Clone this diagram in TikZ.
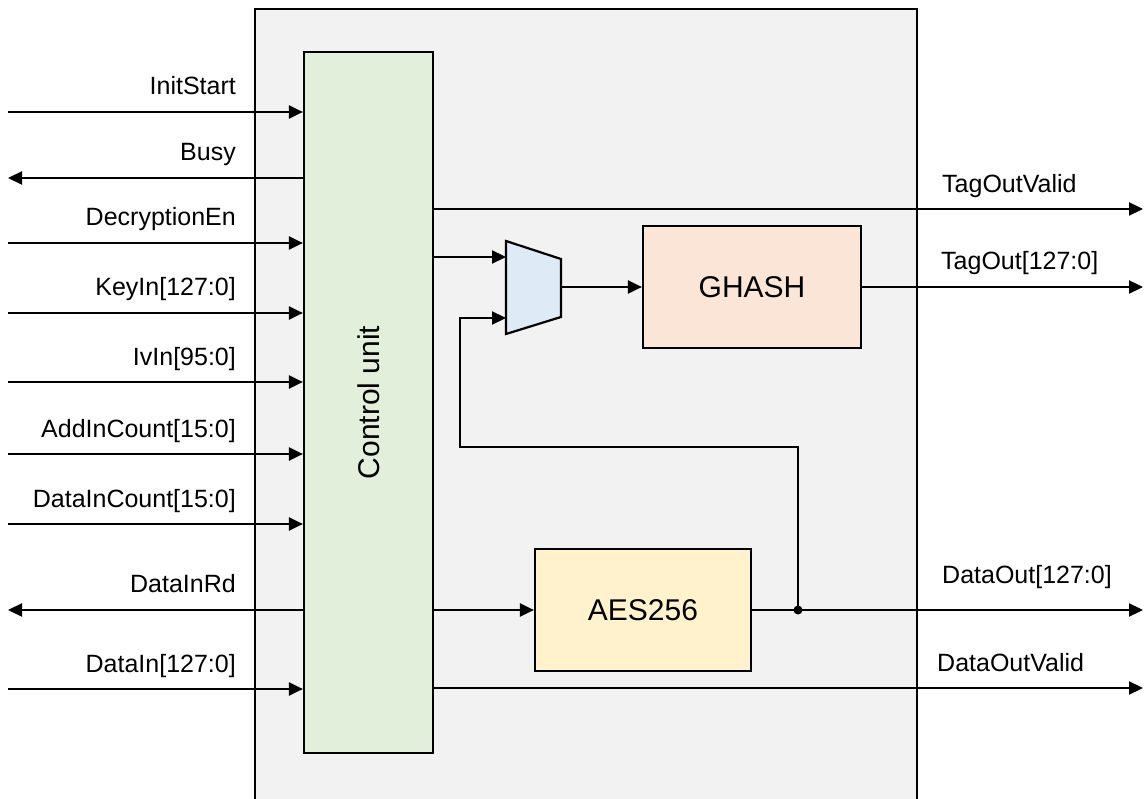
\documentclass[tikz,border=0pt]{standalone}
\usepackage{fontspec}
\setmainfont{Liberation Sans}
\usetikzlibrary{arrows.meta}
\definecolor{corebg}{HTML}{F2F2F2}
\definecolor{ctrlgreen}{HTML}{E2EFDA}
\definecolor{ghashpeach}{HTML}{FBE5D6}
\definecolor{aesyellow}{HTML}{FFF2CC}
\definecolor{muxblue}{HTML}{DEEBF7}
\tikzset{
  wire/.style={line width=2.2pt},
  sig/.style={wire, -{Triangle[length=14pt,width=13pt]}},
  block/.style={draw, line width=2.2pt, minimum width=218pt, minimum height=122pt,
    font=\fontsize{30}{36}\selectfont},
  inlabel/.style={anchor=base east, inner sep=0pt, font=\fontsize{25}{30}\selectfont},
  outlabel/.style={anchor=base west, inner sep=0pt, font=\fontsize{25}{30}\selectfont},
}
\begin{document}
\begin{tikzpicture}[x=1pt, y=-1pt]
  \useasboundingbox (0,0) rectangle (1145,799);
  % core frame, open at the bottom
  \fill[corebg] (255,9) rectangle (917,810);
  \draw[wire] (255,810) -- (255,9) -- (917,9) -- (917,810);

  \node[block, fill=ctrlgreen, minimum width=129pt, minimum height=701pt] (ctrl) at (368.5,402.5) {};
  \node[rotate=90, font=\fontsize{30}{36}\selectfont] (ctrl-lbl) at (ctrl.center) {Control unit};
  \node[block, fill=ghashpeach] (ghash) at (752,287) {GHASH};
  \node[block, fill=aesyellow, minimum width=216pt] (aes) at (643,610) {AES256};

  % mux
  \draw[wire, fill=muxblue] (506,241) -- (561,259) -- (561,317) -- (506,334) -- cycle;
  \coordinate (mux-in1) at (506,257);
  \coordinate (mux-in2) at (506,318);
  \coordinate (mux-out) at (561,287);

  % inputs and outputs on the left
  \coordinate (initstart) at (8,112);
  \coordinate (busy) at (8,178);
  \coordinate (decen) at (8,243);
  \coordinate (keyin) at (8,313);
  \coordinate (ivin) at (8,382);
  \coordinate (addcnt) at (8,454);
  \coordinate (datacnt) at (8,524);
  \coordinate (datainrd) at (8,610);
  \coordinate (datain) at (8,689);
  \draw[sig] (initstart) -- (initstart -| ctrl.west);
  \draw[sig] (busy -| ctrl.west) -- (busy);
  \draw[sig] (decen) -- (decen -| ctrl.west);
  \draw[sig] (keyin) -- (keyin -| ctrl.west);
  \draw[sig] (ivin) -- (ivin -| ctrl.west);
  \draw[sig] (addcnt) -- (addcnt -| ctrl.west);
  \draw[sig] (datacnt) -- (datacnt -| ctrl.west);
  \draw[sig] (datainrd -| ctrl.west) -- (datainrd);
  \draw[sig] (datain) -- (datain -| ctrl.west);
  \node[inlabel] (initstart-lbl) at (236,95) {InitStart};
  \node[inlabel] (busy-lbl) at (236,161) {Busy};
  \node[inlabel] (decen-lbl) at (236,226) {DecryptionEn};
  \node[inlabel] (keyin-lbl) at (236,296) {KeyIn[127:0]};
  \node[inlabel] (ivin-lbl) at (236,365) {IvIn[95:0]};
  \node[inlabel] (addcnt-lbl) at (236,437) {AddInCount[15:0]};
  \node[inlabel] (datacnt-lbl) at (236,507) {DataInCount[15:0]};
  \node[inlabel] (datainrd-lbl) at (236,592) {DataInRd};
  \node[inlabel] (datain-lbl) at (236,672) {DataIn[127:0]};

  % internal paths
  \draw[sig] (mux-in1 -| ctrl.east) -- (mux-in1);
  \draw[sig] (mux-out) -- (ghash.west);
  \draw[sig] (ctrl.east |- aes.west) -- (aes.west);
  \coordinate (jn) at (798,610);
  \coordinate (fb) at (460,447);
  \draw[sig] (jn) |- (fb) |- (mux-in2);
  \fill (jn) circle (4.5pt);

  % outputs on the right
  \coordinate (tagvalid) at (1143,209);
  \coordinate (tagout) at (1143,287);
  \coordinate (dataout) at (1143,610);
  \coordinate (datavalid) at (1143,688);
  \draw[sig] (tagvalid -| ctrl.east) -- (tagvalid);
  \draw[sig] (ghash.east) -- (tagout);
  \draw[sig] (aes.east) -- (dataout);
  \draw[sig] (datavalid -| ctrl.east) -- (datavalid);
  \node[outlabel] (tagvalid-lbl) at (942,193) {TagOutValid};
  \node[outlabel] (tagout-lbl) at (941,270) {TagOut[127:0]};
  \node[outlabel] (dataout-lbl) at (942,583) {DataOut[127:0]};
  \node[outlabel] (datavalid-lbl) at (937,671) {DataOutValid};
\end{tikzpicture}
\end{document}
